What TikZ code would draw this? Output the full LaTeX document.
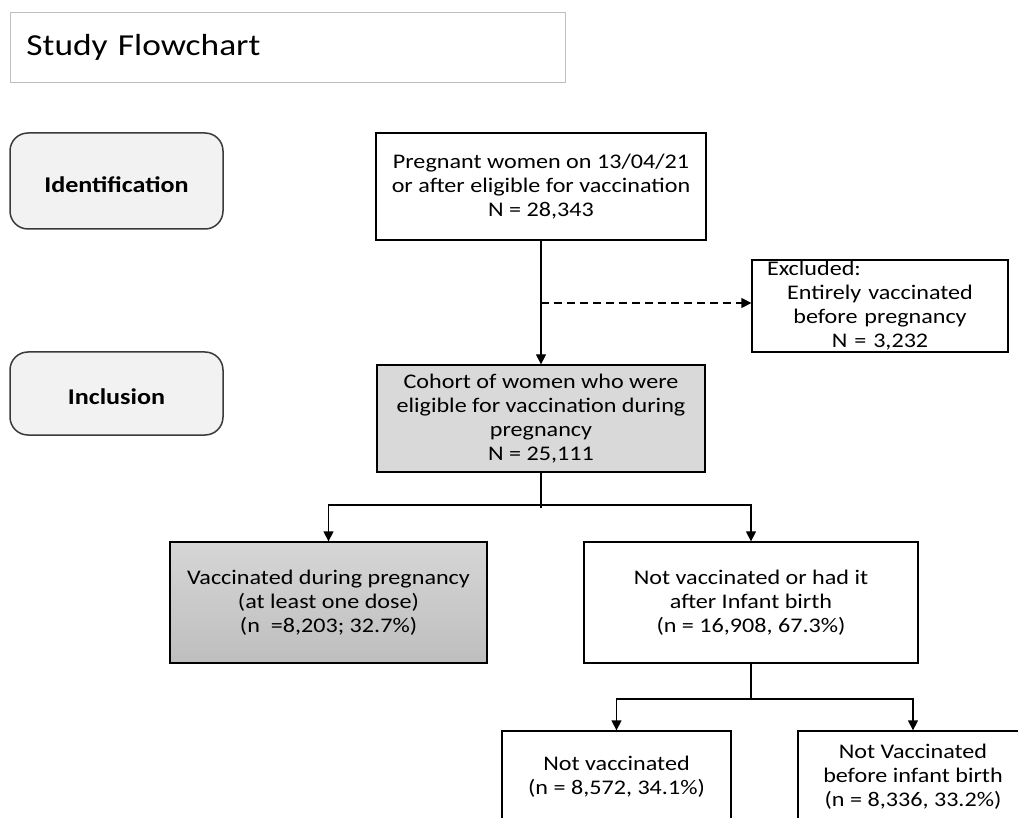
\documentclass[tikz,border=0pt]{standalone}
\usepackage{fontspec}
\setmainfont{Carlito}[FakeStretch=1.16]
\usetikzlibrary{arrows.meta}
\definecolor{stagefill}{HTML}{F2F2F2}
\definecolor{stageline}{HTML}{3A3A3A}
\definecolor{titleline}{HTML}{BFBFBF}
\definecolor{cohortfill}{HTML}{D9D9D9}
\definecolor{vacctop}{HTML}{D6D6D6}
\definecolor{vaccbot}{HTML}{BEBEBE}
\tikzset{
  bodyfont/.style={font=\fontsize{20.8}{24}\selectfont},
  flowbox/.style={draw=black, line width=1.3pt, align=center, inner sep=0pt, bodyfont},
  stagebox/.style={draw=stageline, fill=stagefill, rounded corners=18pt, line width=1.5pt, inner sep=0pt},
  stagetext/.style={font=\bfseries\fontsize{22.5}{26}\selectfont, inner sep=0pt},
  conn/.style={line width=1.3pt},
  arr/.style={conn, -{Triangle[length=10pt,width=10pt]}},
  dasharr/.style={arr, dash pattern=on 8pt off 5pt},
}
\begin{document}
\begin{tikzpicture}[x=1pt,y=-1pt]
\useasboundingbox (0,0) rectangle (1018,818);

% title
\node[draw=titleline, line width=1pt, anchor=north west, minimum width=555, minimum height=70,
      inner xsep=16pt, text width=523pt, align=left, font=\fontsize{30.5}{36}\selectfont]
  (title) at (10,12) {Study Flowchart};

% stage boxes
\node[stagebox, minimum width=213, minimum height=96] (ident) at (116.5,181) {};
\node[stagetext, yshift=-4pt] (identtxt) at (ident.center) {Identification};
\node[stagebox, minimum width=213, minimum height=83] (incl) at (116.5,393.5) {};
\node[stagetext, yshift=-3pt] (incltxt) at (incl.center) {Inclusion};

% flow boxes
\node[flowbox, minimum width=330, minimum height=107] (b1) at (541,186.5)
  {Pregnant women on 13/04/21\\or after eligible for vaccination\\N = 28,343};
\node[flowbox, minimum width=256, minimum height=92, text width=226pt] (excl) at (880,306)
  {\makebox[226pt][l]{Excluded:}\\Entirely vaccinated\\before pregnancy\\N = 3,232};
\node[flowbox, fill=cohortfill, minimum width=328, minimum height=107] (cohort) at (541,418.5)
  {Cohort of women who were\\eligible for vaccination during\\pregnancy\\N = 25,111};
\node[flowbox, top color=vacctop, bottom color=vaccbot, minimum width=317, minimum height=121] (vacc) at (328.5,602.5)
  {Vaccinated during pregnancy\\(at least one dose)\\(n\ \ =8,203; 32.7\%)};
\node[flowbox, minimum width=334, minimum height=121] (notv) at (751,602.5)
  {Not vaccinated or had it\\after Infant birth\\(n = 16,908, 67.3\%)};
\node[flowbox, minimum width=229, minimum height=92] (nv1) at (616.5,777)
  {Not vaccinated\\(n = 8,572, 34.1\%)};
\node[flowbox, minimum width=230, minimum height=92] (nv2) at (913,777)
  {Not Vaccinated\\before infant birth\\(n = 8,336, 33.2\%)};

% connectors
\draw[arr] (b1.south) -- (cohort.north);
\coordinate (d0) at (541,303);
\draw[dasharr] (d0) -- (d0 -| excl.west);

\coordinate (j1) at (541,505);
\coordinate (j1b) at (541,508);
\draw[conn] (cohort.south) -- (j1b);
\draw[arr] (j1) -| (vacc.north);
\draw[arr] (j1) -| (notv.north);

\coordinate (j2) at (751,699);
\draw[conn] (notv.south) -- (j2);
\draw[arr] (j2) -| (nv1.north);
\draw[arr] (j2) -| (nv2.north);
\end{tikzpicture}
\end{document}
